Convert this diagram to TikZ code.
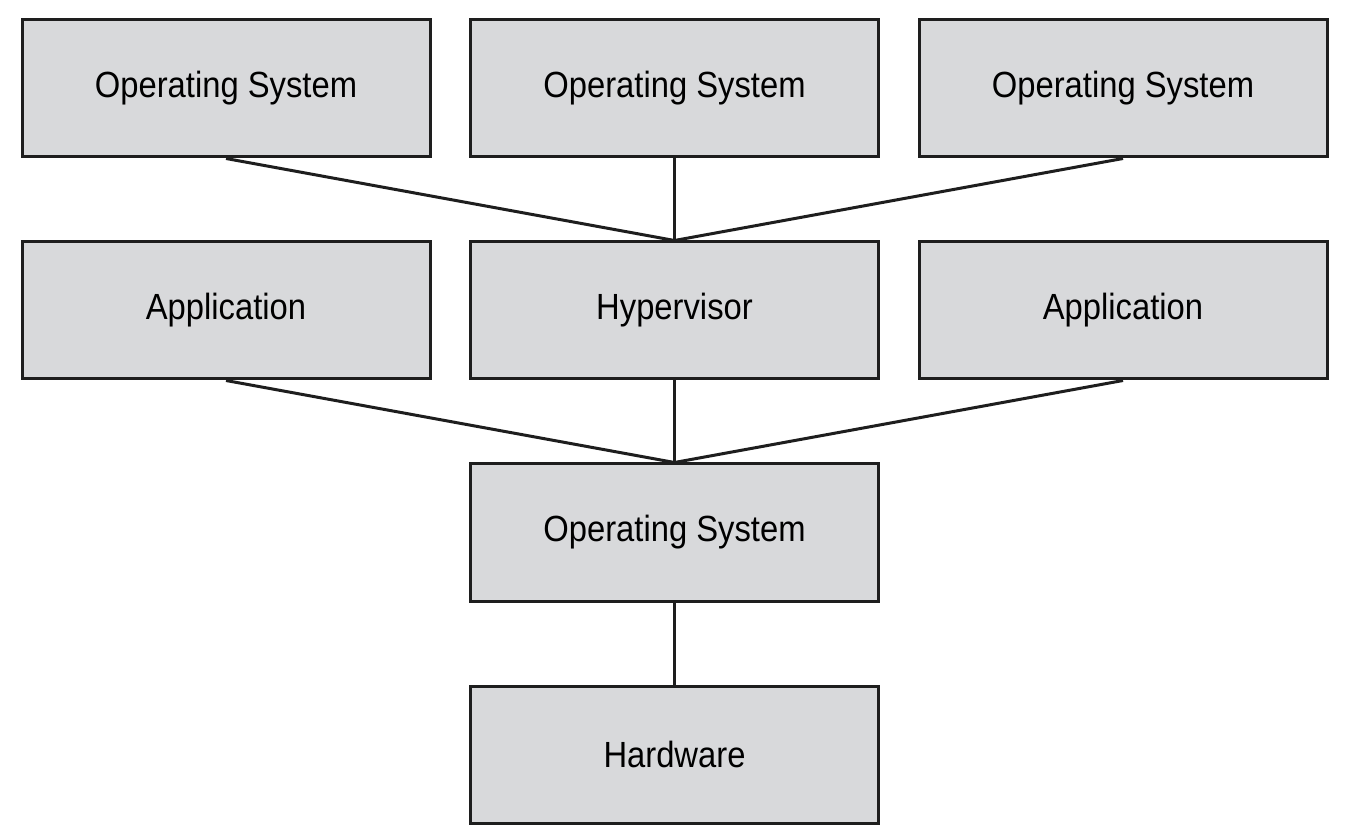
\documentclass[tikz,border=0pt]{standalone}
\usepackage{fontspec}
\setmainfont{Liberation Sans}[FakeStretch=0.9]
\usepackage{tikz}
\usepackage{xcolor}
\definecolor{boxgray}{HTML}{D8D9DB}
\definecolor{edgeblack}{HTML}{1E1E1E}
\begin{document}
\begin{tikzpicture}[x=0.5pt, y=-0.5pt,
  layer/.style={draw=edgeblack, fill=boxgray, line width=1.5pt, minimum width=204pt, minimum height=68.5pt, inner sep=0pt, font=\fontsize{18.2}{22}\selectfont},
  link/.style={draw=edgeblack, line width=1.5pt}]
  \useasboundingbox (0,0) rectangle (1352,838);
  % guests
  \node[layer] (osl) at (226,88.5) {Operating System};
  \node[layer] (osm) at (674.5,88.5) {Operating System};
  \node[layer] (osr) at (1123,88.5) {Operating System};
  \node[layer] (appl) at (226,310.5) {Application};
  \node[layer] (hyp) at (674.5,310.5) {Hypervisor};
  \node[layer] (appr) at (1123,310.5) {Application};
  % host
  \node[layer] (host) at (674.5,532.5) {Operating System};
  \node[layer] (hw) at (674.5,754.5) {Hardware};
  \draw[link] (osl.south) -- (hyp.north);
  \draw[link] (osm.south) -- (hyp.north);
  \draw[link] (osr.south) -- (hyp.north);
  \draw[link] (appl.south) -- (host.north);
  \draw[link] (hyp.south) -- (host.north);
  \draw[link] (appr.south) -- (host.north);
  \draw[link] (host.south) -- (hw.north);
\end{tikzpicture}
\end{document}
